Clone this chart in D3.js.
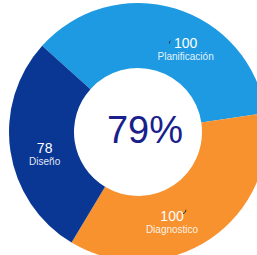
<!DOCTYPE html>
<html>
<head>
<meta charset="utf-8">
<script src="https://cdn.jsdelivr.net/npm/d3@7"></script>
<style>
  body { margin: 0; background: #fff; }
  svg { display: block; font-family: "Liberation Sans", Arial, sans-serif; }
</style>
</head>
<body>
<div id="chart"></div>
<script>
// Data
var categories = ["Planificación", "Diagnostico", "Diseño"];
var values = [100, 100, 78];
var centerLabel = "79%";

var colors = ["#1d9ae2", "#f7922f", "#0a3794"];

var width = 257;
var height = 255;
var cx = 138, cy = 132;
var outerR = 129, innerR = 64;

var svg = d3.select("#chart")
    .append("svg")
    .attr("width", width)
    .attr("height", height);

var g = svg.append("g")
    .attr("transform", "translate(" + cx + "," + cy + ")");

var start = -48 * Math.PI / 180;
var pie = d3.pie()
    .sort(null)
    .startAngle(start)
    .endAngle(start + 2 * Math.PI);

var arcs = pie(values);

var arc = d3.arc()
    .innerRadius(innerR)
    .outerRadius(outerR);

g.selectAll(".slice")
    .data(arcs)
    .enter().append("path")
    .attr("class", "slice")
    .attr("d", arc)
    .attr("fill", function(d, i) { return colors[i]; });

// labels sit a bit off the slice middle in the original
var labelTurn = [13, 13, -5];
var labelR = 96;

function labelPos(d, i) {
    var a = (d.startAngle + d.endAngle) / 2 + labelTurn[i] * Math.PI / 180;
    return [labelR * Math.sin(a), -labelR * Math.cos(a)];
}

var labels = g.selectAll(".lab")
    .data(arcs)
    .enter().append("g")
    .attr("class", "lab")
    .attr("transform", function(d, i) { return "translate(" + labelPos(d, i) + ")"; });

labels.append("text")
    .attr("y", -1)
    .attr("text-anchor", "middle")
    .attr("fill", "#fff")
    .attr("font-size", 14)
    .text(function(d) { return d.data; });

labels.append("text")
    .attr("y", 11)
    .attr("text-anchor", "middle")
    .attr("fill", "#fff")
    .attr("fill-opacity", 0.9)
    .attr("font-size", 10)
    .text(function(d, i) { return categories[i]; });

// tiny leader ticks next to the two "100" numbers
labels.filter(function(d, i) { return i === 0; })
    .append("path")
    .attr("d", "M-15,-8 q-2,1 -1,3")
    .attr("stroke", "#333")
    .attr("fill", "none")
    .attr("stroke-width", 1);

labels.filter(function(d, i) { return i === 1; })
    .append("path")
    .attr("d", "M14,-12 q0,3 -3,4")
    .attr("stroke", "#333")
    .attr("fill", "none")
    .attr("stroke-width", 1);

// center value
g.append("text")
    .attr("text-anchor", "middle")
    .attr("x", 7)
    .attr("y", 11)
    .attr("fill", "#1a1f8c")
    .attr("font-size", 38)
    .text(centerLabel);
</script>
</body>
</html>
